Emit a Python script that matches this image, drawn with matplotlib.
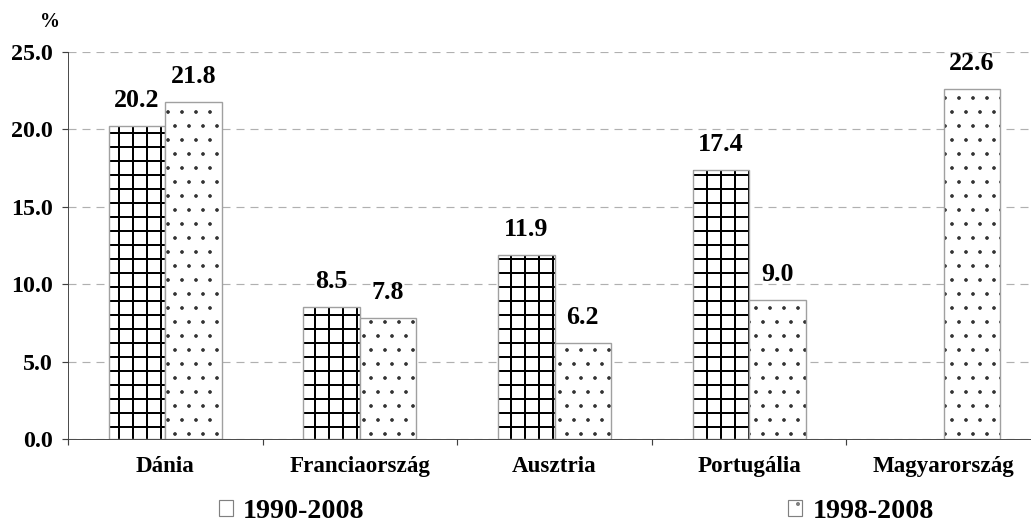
import numpy as np
import matplotlib.pyplot as plt
from matplotlib.patches import Rectangle
from matplotlib.font_manager import FontProperties

# hatch spacing in matplotlib is tied to inches, so use a dpi that gives ~14 px cells
DPI = 84
W, H = 1031, 524

plt.rcParams['font.family'] = ['Liberation Serif', 'DejaVu Serif']
plt.rcParams['font.weight'] = 'bold'

countries = ['Dánia', 'Franciaország', 'Ausztria', 'Portugália', 'Magyarország']
s1990 = [20.2, 8.5, 11.9, 17.4, np.nan]
s1998 = [21.8, 7.8, 6.2, 9.0, 22.6]
series_names = ['1990-2008', '1998-2008']
yticks = [0, 5, 10, 15, 20, 25]


def px(v):
    # pixels -> points at this dpi
    return v * 72 / DPI


fig = plt.figure(figsize=(W / DPI, H / DPI), dpi=DPI)
ax = fig.add_axes([68 / W, 85 / H, 973 / W, 387 / H])

x = np.arange(len(countries))
w = 0.29

# fill + hatch layer, then a thin gray outline on top
with plt.rc_context({'hatch.linewidth': 1.7}):
    ax.bar(x - w / 2, s1990, w, color='white', edgecolor='black', hatch='+', linewidth=0)
ax.bar(x - w / 2, s1990, w, fill=False, edgecolor='#a0a0a0', linewidth=1.2)
with plt.rc_context({'hatch.linewidth': 0.7}):
    ax.bar(x + w / 2, s1998, w, color='white', edgecolor='#333333', hatch='.', linewidth=0)
ax.bar(x + w / 2, s1998, w, fill=False, edgecolor='#a0a0a0', linewidth=1.2)

for xi, a, b in zip(x, s1990, s1998):
    for off, v in ((-w / 2, a), (w / 2, b)):
        if np.isnan(v):
            continue
        ax.annotate(f'{v:.1f}', (xi + off, v), xytext=(0, px(19)),
                    textcoords='offset points', ha='center', va='baseline',
                    fontsize=px(26), fontweight='bold')

ax.set_xlim(-0.5, len(countries) - 0.5)
ax.set_ylim(0, 25)

ax.set_yticks(yticks)
ax.set_yticklabels([f'{t:.1f}' for t in yticks])
ax.tick_params(axis='y', length=px(6), width=1, pad=px(9), labelsize=px(24),
               colors='#404040', labelcolor='black')

ax.set_xticks(np.arange(len(countries) + 1) - 0.5)
ax.set_xticklabels([])
ax.tick_params(axis='x', which='major', length=px(6), width=1, direction='out', color='#404040')
ax.set_xticks(x, minor=True)
ax.set_xticklabels(countries, minor=True)
ax.tick_params(axis='x', which='minor', length=0, pad=px(17), labelsize=px(23))

ax.yaxis.grid(True, color='#b0b0b0', linewidth=1, linestyle=(0, (px(8), px(6))))
ax.set_axisbelow(True)
for s in ['top', 'right']:
    ax.spines[s].set_visible(False)
ax.spines['left'].set_color('#404040')
ax.spines['bottom'].set_color('#404040')

fig.text(50 / W, 1 - 22 / H, '%', ha='center', va='center', fontsize=px(20), fontweight='bold')

# legend: two separate entries placed far apart
leg_font = FontProperties(family='Liberation Serif', weight='bold', size=px(28))
hatches = ['', '.']
centers = [292, 861]
for name, hatch, cx in zip(series_names, hatches, centers):
    with plt.rc_context({'hatch.linewidth': 0.7}):
        h = Rectangle((0, 0), 1, 1, facecolor='white', edgecolor='#808080', hatch=hatch, linewidth=1)
    fig.legend([h], [name], loc='center', bbox_to_anchor=(cx / W, 1 - 511 / H),
               frameon=False, prop=leg_font, handlelength=0.5, handleheight=0.5,
               handletextpad=0.35, borderpad=0)

fig.savefig('out.png', dpi=DPI)
